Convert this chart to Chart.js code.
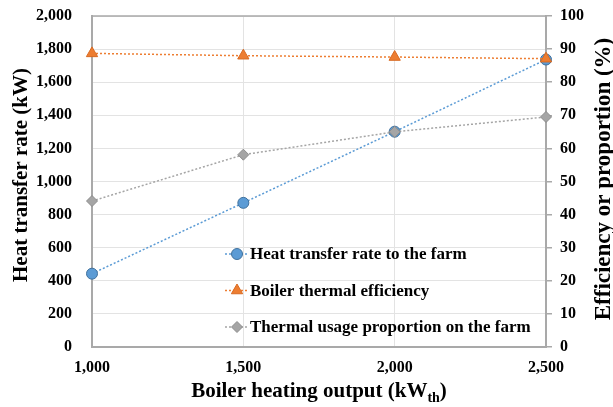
<!DOCTYPE html>
<html>
<head>
<meta charset="utf-8">
<script src="https://cdn.jsdelivr.net/npm/chart.js@4.4.0/dist/chart.umd.min.js"></script>
<style>
  html, body { margin: 0; padding: 0; background: #fff; }
  #stage { display: block; }
</style>
</head>
<body>
<canvas id="stage" width="613" height="407"></canvas>
<script>
// boiler heating output (kW_th)
const outputs = [1000, 1500, 2000, 2500];
// heat transfer rate to the farm (kW)
const heatRate = [443, 871, 1301, 1737];
// boiler thermal efficiency (%)
const efficiency = [88.7, 88.0, 87.6, 87.1];
// thermal usage proportion on the farm (%)
const usage = [44.1, 58.1, 65.0, 69.5];

const seriesNames = ['Heat transfer rate to the farm', 'Boiler thermal efficiency', 'Thermal usage proportion on the farm'];
const kwTicks = [0, 200, 400, 600, 800, 1000, 1200, 1400, 1600, 1800, 2000];
const pctTicks = [0, 10, 20, 30, 40, 50, 60, 70, 80, 90, 100];
const outputTicks = [1000, 1500, 2000, 2500];

const FONT = '"Liberation Serif", "Times New Roman", serif';
const AXIS_GRAY = '#a9a9a9';
const GRID_GRAY = '#e3e3e3';

function pts(ys) {
  return outputs.map((x, i) => ({ x: x, y: ys[i] }));
}

function setTicks(list) {
  return function (scale) {
    scale.ticks = list.map(v => ({ value: v }));
  };
}

// fixed box sizes so the plot area sits where the axes need it
function fitBox(w, h) {
  return function (scale) {
    if (w) scale.width = w;
    if (h) scale.height = h;
    scale.paddingTop = 0;
    scale.paddingBottom = 0;
    scale.paddingLeft = 0;
    scale.paddingRight = 0;
  };
}

// titles, top frame line and the in-plot legend
const decor = {
  id: 'decor',
  beforeDatasetsDraw(chart) {
    const ctx = chart.ctx, a = chart.chartArea;
    ctx.save();
    ctx.strokeStyle = AXIS_GRAY;
    ctx.lineWidth = 1.5;
    ctx.beginPath();
    ctx.moveTo(a.left, a.top);
    ctx.lineTo(a.right, a.top);
    ctx.stroke();
    ctx.restore();
  },
  afterDraw(chart) {
    const ctx = chart.ctx, a = chart.chartArea;
    ctx.save();
    ctx.fillStyle = '#000';

    // y titles
    ctx.font = 'bold 21px ' + FONT;
    ctx.textAlign = 'center';
    ctx.textBaseline = 'middle';
    ctx.save();
    ctx.translate(22, 175);
    ctx.rotate(-Math.PI / 2);
    ctx.fillText('Heat transfer rate (kW)', 0, 0);
    ctx.restore();

    ctx.font = 'bold 23px ' + FONT;
    ctx.save();
    ctx.translate(604, 179);
    ctx.rotate(-Math.PI / 2);
    ctx.fillText('Efficiency or proportion (%)', 0, 0);
    ctx.restore();

    // x title with subscript
    ctx.textAlign = 'left';
    ctx.textBaseline = 'alphabetic';
    const main = 'Boiler heating output (kW';
    ctx.font = 'bold 21px ' + FONT;
    const w1 = ctx.measureText(main).width;
    ctx.font = 'bold 14px ' + FONT;
    const w2 = ctx.measureText('th').width;
    ctx.font = 'bold 21px ' + FONT;
    const w3 = ctx.measureText(')').width;
    let x = (a.left + a.right) / 2 - (w1 + w2 + w3) / 2;
    const base = 397;
    ctx.fillText(main, x, base);
    x += w1;
    ctx.font = 'bold 14px ' + FONT;
    ctx.fillText('th', x, base + 5);
    x += w2;
    ctx.font = 'bold 21px ' + FONT;
    ctx.fillText(')', x, base);

    // legend
    const lx = a.left + 145, ly = a.top + 238, gap = 36.5;
    chart.data.datasets.forEach((ds, i) => {
      const y = ly + i * gap;
      ctx.save();
      ctx.strokeStyle = ds.borderColor;
      ctx.lineWidth = ds.borderWidth;
      ctx.setLineDash(ds.borderDash);
      ctx.beginPath();
      ctx.moveTo(lx - 12, y);
      ctx.lineTo(lx + 10, y);
      ctx.stroke();
      ctx.setLineDash([]);
      ctx.fillStyle = ds.pointBackgroundColor;
      ctx.strokeStyle = ds.pointBorderColor;
      ctx.lineWidth = ds.pointBorderWidth;
      Chart.helpers.drawPoint(ctx, {
        pointStyle: ds.pointStyle, radius: ds.pointRadius, rotation: 0, borderWidth: ds.pointBorderWidth
      }, lx, y);
      ctx.restore();
      ctx.font = 'bold 17px ' + FONT;
      ctx.textBaseline = 'middle';
      ctx.textAlign = 'left';
      ctx.fillStyle = '#000';
      ctx.fillText(ds.label, lx + 13, y + 1);
    });
    ctx.restore();
  }
};

new Chart(document.getElementById('stage'), {
  type: 'line',
  data: {
    datasets: [
      {
        label: seriesNames[0],
        data: pts(heatRate),
        yAxisID: 'y',
        order: 3,
        borderColor: '#5b9bd5',
        borderWidth: 1.5,
        borderDash: [2, 2],
        pointStyle: 'circle',
        pointRadius: 5.5,
        pointBackgroundColor: '#5b9bd5',
        pointBorderColor: '#41719c',
        pointBorderWidth: 1,
        clip: false
      },
      {
        label: seriesNames[1],
        data: pts(efficiency),
        yAxisID: 'y1',
        order: 2,
        borderColor: '#ed7d31',
        borderWidth: 1.5,
        borderDash: [2, 2],
        pointStyle: 'triangle',
        pointRadius: 6.5,
        pointBackgroundColor: '#ed7d31',
        pointBorderColor: '#d86a22',
        pointBorderWidth: 1,
        clip: false
      },
      {
        label: seriesNames[2],
        data: pts(usage),
        yAxisID: 'y1',
        order: 1,
        borderColor: '#a5a5a5',
        borderWidth: 1.5,
        borderDash: [2, 2],
        pointStyle: 'rectRot',
        pointRadius: 5.5,
        pointBackgroundColor: '#a5a5a5',
        pointBorderColor: '#8c8c8c',
        pointBorderWidth: 1,
        clip: false
      }
    ]
  },
  options: {
    responsive: false,
    animation: false,
    layout: { padding: { top: 16, left: 0, right: 0, bottom: 0 } },
    plugins: {
      legend: { display: false },
      tooltip: { enabled: false }
    },
    scales: {
      x: {
        type: 'linear',
        min: 1000,
        max: 2500,
        afterBuildTicks: setTicks(outputTicks),
        afterFit: fitBox(0, 60),
        grid: { color: GRID_GRAY, drawTicks: false },
        border: { color: AXIS_GRAY, width: 2 },
        ticks: {
          padding: 11,
          color: '#000',
          font: { family: FONT, size: 16, weight: 'bold' },
          callback: v => v.toLocaleString('en-US')
        }
      },
      y: {
        position: 'left',
        min: 0,
        max: 2000,
        afterBuildTicks: setTicks(kwTicks),
        afterFit: fitBox(92, 0),
        grid: { color: GRID_GRAY, drawTicks: false },
        border: { color: AXIS_GRAY, width: 2 },
        ticks: {
          padding: 20,
          color: '#000',
          font: { family: FONT, size: 16, weight: 'bold' },
          callback: v => v.toLocaleString('en-US')
        }
      },
      y1: {
        position: 'right',
        min: 0,
        max: 100,
        afterBuildTicks: setTicks(pctTicks),
        afterFit: fitBox(67, 0),
        grid: { drawOnChartArea: false, color: AXIS_GRAY, tickLength: 6, lineWidth: 1.5 },
        border: { color: AXIS_GRAY, width: 2 },
        ticks: {
          padding: 8,
          color: '#000',
          font: { family: FONT, size: 16, weight: 'bold' }
        }
      }
    }
  },
  plugins: [decor]
});
</script>
</body>
</html>
